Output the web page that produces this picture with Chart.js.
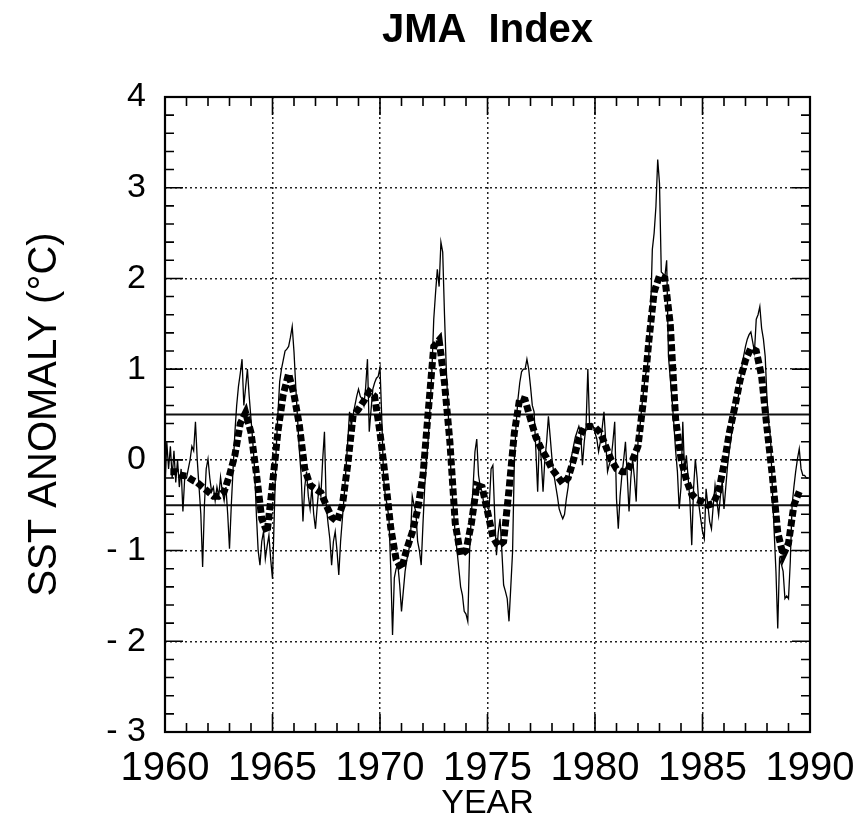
<!DOCTYPE html>
<html>
<head>
<meta charset="utf-8">
<script src="https://cdn.jsdelivr.net/npm/chart.js@4.4.1/dist/chart.umd.min.js"></script>
<style>
  html, body { margin: 0; padding: 0; background: #fff; }
  #c { display: block; }
</style>
</head>
<body>
<canvas id="c" width="868" height="837"></canvas>
<script>
// ---------------- DATA ----------------
const startYear = 1960;
const endYear = 1990;
const yearTickLabels = ['1960', '1965', '1970', '1975', '1980', '1985', '1990'];
const anomalyTicks = [-3, -2, -1, 0, 1, 2, 3, 4];
const thresholds = [0.5, -0.5];

// Monthly JMA SST anomaly (thin line), Jan..Dec for each year
const monthly1960s = [
  -0.3, 0.2, -0.1, 0.15, -0.2, 0.1, -0.25, 0.0, -0.3, -0.1, -0.57, -0.2,      // 1960
  -0.2, -0.1, 0.0, 0.15, 0.1, 0.42, 0.0, -0.3, -0.6, -1.18, -0.5, -0.1,       // 1961
  0.01, -0.2, -0.35, -0.3, -0.45, -0.3, -0.4, -0.19, -0.35, -0.45, -0.3, -0.6, // 1962
  -0.98, -0.5, -0.1, 0.3, 0.6, 0.81, 0.95, 1.11, 0.6, 0.8, 1.0, 0.7,          // 1963
  0.45, 0.2, -0.1, -0.6, -1.0, -1.16, -0.9, -0.79, -1.09, -0.95, -0.83, -1.1, // 1964
  -1.31, -0.6, 0.09, 0.5, 0.86, 1.0, 1.1, 1.2, 1.22, 1.25, 1.35, 1.47,        // 1965
  1.19, 0.8, 0.45, 0.1, -0.17, -0.68, -0.3, -0.13, -0.4, -0.54, -0.3, -0.6,   // 1966
  -0.76, -0.5, -0.28, -0.4, 0.0, 0.31, -0.5, -0.7, -0.87, -1.16, -0.9, -0.79, // 1967
  -1.0, -1.27, -0.9, -0.65, -0.4, -0.1, 0.2, 0.53, 0.37, 0.5, 0.6, 0.7,       // 1968
  0.78, 0.7, 0.67, 0.6, 0.8, 1.11, 0.31, 0.55, 0.78, 0.85, 0.9, 0.92          // 1969
];
const monthly1970s = [
  1.02, 0.45, -0.2, -0.4, -0.5, -0.65, -1.2, -1.93, -1.3, -1.2, -1.16, -1.38,  // 1970
  -1.67, -1.45, -1.23, -1.1, -1.01, -0.87, -0.4, -0.5, -0.57, -0.9, -1.0, -1.16, // 1971
  -0.7, -0.28, 0.0, 0.26, 0.6, 1.0, 1.55, 1.84, 2.1, 1.91, 2.4, 2.29,           // 1972
  1.6, 1.0, 0.56, 0.1, -0.28, -0.55, -0.83, -1.0, -1.2, -1.4, -1.49, -1.67,     // 1973
  -1.7, -1.78, -1.01, -0.6, -0.28, 0.09, 0.23, -0.17, -0.3, -0.35, -0.5, -0.57, // 1974
  -0.65, -0.5, -0.1, -0.06, -0.6, -1.05, -0.8, -0.65, -1.0, -1.38, -1.45, -1.53, // 1975
  -1.78, -1.4, -1.01, 0.01, 0.4, 0.67, 0.85, 0.97, 1.0, 1.0, 1.11, 1.0,         // 1976
  0.81, 0.6, 0.53, 0.1, -0.35, 0.26, 0.0, -0.35, 0.0, 0.2, 0.48, 0.25,          // 1977
  0.01, -0.15, -0.28, -0.4, -0.54, -0.6, -0.65, -0.6, -0.43, -0.3, -0.1, 0.05,  // 1978
  0.15, 0.25, 0.31, 0.37, 0.3, -0.06, 0.2, 0.37, 1.0, 0.37, 0.4, 0.37           // 1979
];
const monthly1980s = [
  0.3, 0.23, 0.09, 0.2, 0.35, 0.53, 0.2, -0.13, -0.05, 0.01, 0.2, 0.42,         // 1980
  -0.43, -0.76, -0.4, -0.17, 0.0, 0.2, -0.17, -0.57, -0.2, 0.01, -0.2, -0.46,   // 1981
  0.2, 0.35, 0.56, 0.75, 0.92, 1.0, 1.14, 1.6, 2.32, 2.5, 2.79, 3.31,           // 1982
  3.05, 2.07, 2.05, 2.02, 2.2, 1.14, 0.9, 0.67, 0.4, 0.1, -0.13, -0.54,         // 1983
  -0.3, 0.42, -0.13, 0.05, -0.2, -0.46, -0.94, -0.32, 0.01, -0.2, -0.5, -0.65,  // 1984
  -0.79, -0.87, -0.32, -0.5, -0.68, -0.76, -0.5, -0.28, -0.45, -0.61, -0.4, -0.24, // 1985
  -0.54, -0.3, -0.06, 0.1, 0.25, 0.42, 0.55, 0.65, 0.7, 0.85, 1.03, 1.15,       // 1986
  1.25, 1.33, 1.38, 1.41, 1.3, 1.19, 1.55, 1.6, 1.69, 1.45, 1.33, 1.14,         // 1987
  0.67, 0.4, 0.23, -0.32, -0.79, -1.23, -1.86, -1.09, -1.15, -1.23, -1.53, -1.5, // 1988
  -1.53, -1.12, -0.5, -0.3, -0.13, 0.01, 0.12, -0.1, -0.17, -0.17, -0.2, -0.2   // 1989
];

// Smoothed index (thick dashed line), quarterly: Jan, Apr, Jul, Oct of each year
const smoothedQuarterly = [
  null, -0.13, -0.13, -0.17,   // 1960
  -0.18, -0.22, -0.25, -0.3,   // 1961
  -0.35, -0.4, -0.4, -0.35,    // 1962
  -0.17, 0.05, 0.4, 0.52,      // 1963
  0.3, -0.15, -0.65, -0.8,     // 1964
  -0.27, 0.31, 0.72, 0.95,     // 1965
  0.72, 0.38, -0.1, -0.28,     // 1966
  -0.32, -0.36, -0.5, -0.63,   // 1967
  -0.68, -0.5, -0.05, 0.49,    // 1968
  0.56, 0.65, 0.75, 0.7,       // 1969
  0.3, -0.2, -0.75, -1.1,      // 1970
  -1.2, -0.98, -0.8, -0.55,    // 1971
  -0.17, 0.55, 1.25, 1.32,     // 1972
  0.85, 0.2, -0.7, -1.05,      // 1973
  -1.0, -0.7, -0.28, -0.3,     // 1974
  -0.57, -0.85, -0.95, -0.9,   // 1975
  -0.33, 0.3, 0.68, 0.66,      // 1976
  0.45, 0.25, 0.12, 0.02,      // 1977
  -0.1, -0.18, -0.26, -0.2,    // 1978
  0.0, 0.23, 0.36, 0.37,       // 1979
  0.36, 0.3, 0.15, 0.0,        // 1980
  -0.1, -0.13, -0.13, 0.0,     // 1981
  0.15, 0.65, 1.3, 1.85,       // 1982
  2.03, 2.0, 1.5, 0.45,        // 1983
  0.01, -0.22, -0.38, -0.44,   // 1984
  -0.46, -0.5, -0.48, -0.35,   // 1985
  -0.05, 0.3, 0.58, 0.88,      // 1986
  1.1, 1.23, 1.2, 0.92,        // 1987
  0.35, -0.18, -0.8, -1.05,    // 1988
  -0.92, -0.5, -0.35, null     // 1989
];

// ---------------- BUILD ----------------
const FONT = "'Liberation Sans', Arial, Helvetica, sans-serif";
Chart.defaults.font.family = FONT;
Chart.defaults.color = '#000';

const monthly = monthly1960s.concat(monthly1970s, monthly1980s);
const thinPts = monthly.map((v, i) => ({ x: startYear + i / 12, y: v }));
const thickPts = smoothedQuarterly.map((v, i) => ({ x: startYear + i / 4, y: v }));
const thresholdSets = thresholds.map(t => ({
  data: [{ x: startYear, y: t }, { x: endYear, y: t }],
  borderColor: '#111', borderWidth: 2, pointRadius: 0, order: 3
}));

const MAJ = 18, MIN = 9;
const axisDecor = {
  id: 'axisDecor',
  afterDatasetsDraw(chart) {
    const { ctx, chartArea: a, scales: { x, y } } = chart;
    ctx.save();
    ctx.strokeStyle = '#000';
    ctx.lineWidth = 1.6;
    ctx.setLineDash([]);
    ctx.beginPath();
    const seg = (x1, y1, x2, y2) => { ctx.moveTo(x1, y1); ctx.lineTo(x2, y2); };
    const yv = y.ticks.map(t => t.value);
    yv.forEach((v, i) => {
      const p = y.getPixelForValue(v);
      seg(a.left, p, a.left + MAJ, p); seg(a.right, p, a.right - MAJ, p);
      if (i < yv.length - 1) {
        for (let k = 1; k < 5; k++) {
          const q = y.getPixelForValue(v + (yv[i + 1] - v) * k / 5);
          seg(a.left, q, a.left + MIN, q); seg(a.right, q, a.right - MIN, q);
        }
      }
    });
    const xv = x.ticks.map(t => t.value);
    xv.forEach((v, i) => {
      const p = x.getPixelForValue(v);
      seg(p, a.bottom, p, a.bottom - MAJ); seg(p, a.top, p, a.top + MAJ);
      if (i < xv.length - 1) {
        for (let k = 1; k < 5; k++) {
          const q = x.getPixelForValue(v + (xv[i + 1] - v) * k / 5);
          seg(q, a.bottom, q, a.bottom - MIN); seg(q, a.top, q, a.top + MIN);
        }
      }
    });
    ctx.stroke();
    ctx.lineWidth = 2.2;
    ctx.strokeRect(a.left, a.top, a.right - a.left, a.bottom - a.top);
    ctx.restore();
  }
};

new Chart(document.getElementById('c'), {
  type: 'line',
  data: {
    datasets: [
      { label: 'smoothed', data: thickPts, borderColor: '#000', borderWidth: 7,
        borderDash: [7, 3], borderCapStyle: 'butt', pointRadius: 0, order: 1 },
      { label: 'monthly', data: thinPts, borderColor: '#000', borderWidth: 1.3,
        pointRadius: 0, order: 2 },
      ...thresholdSets
    ]
  },
  options: {
    responsive: false,
    animation: false,
    events: [],
    layout: { padding: { left: 0, right: 58, top: 0, bottom: 0 } },
    plugins: {
      legend: { display: false },
      tooltip: { enabled: false },
      title: {
        display: true, text: 'JMA  Index', fullSize: false, color: '#000',
        font: { size: 40, weight: 'bold', family: FONT, lineHeight: 1.2 },
        padding: { top: 7, bottom: 42 }
      }
    },
    scales: {
      x: {
        type: 'linear', min: startYear, max: endYear,
        afterFit(s) { s.height = 105; },
        ticks: {
          stepSize: 5, autoSkip: false, maxRotation: 0, minRotation: 0,
          padding: 13, color: '#000',
          font: { size: 40, family: FONT, lineHeight: 1.2 },
          callback: (v) => { const i = (v - startYear) / 5; return yearTickLabels[i] ?? ''; }
        },
        grid: { color: '#222', lineWidth: 1.5, drawTicks: false },
        border: { display: false, dash: [2, 3] },
        title: { display: true, text: 'YEAR', color: '#000',
          font: { size: 34, family: FONT, lineHeight: 1.2 }, padding: { top: 0, bottom: 13 } }
      },
      y: {
        type: 'linear', min: anomalyTicks[0], max: anomalyTicks[anomalyTicks.length - 1],
        afterFit(s) { s.width = 165; },
        afterBuildTicks(s) { s.ticks = anomalyTicks.map(v => ({ value: v })); },
        ticks: {
          padding: 19, color: '#000',
          font: { size: 34, family: FONT, lineHeight: 1.2 },
          callback: (v) => v < 0 ? '- ' + Math.abs(v) : String(v)
        },
        grid: { color: '#222', lineWidth: 1.5, drawTicks: false },
        border: { display: false, dash: [2, 3] },
        title: { display: true, text: 'SST ANOMALY (°C)', color: '#000',
          font: { size: 40, family: FONT, lineHeight: 1.2 }, padding: { top: 21, bottom: 0 } }
      }
    }
  },
  plugins: [axisDecor]
});
</script>
</body>
</html>
